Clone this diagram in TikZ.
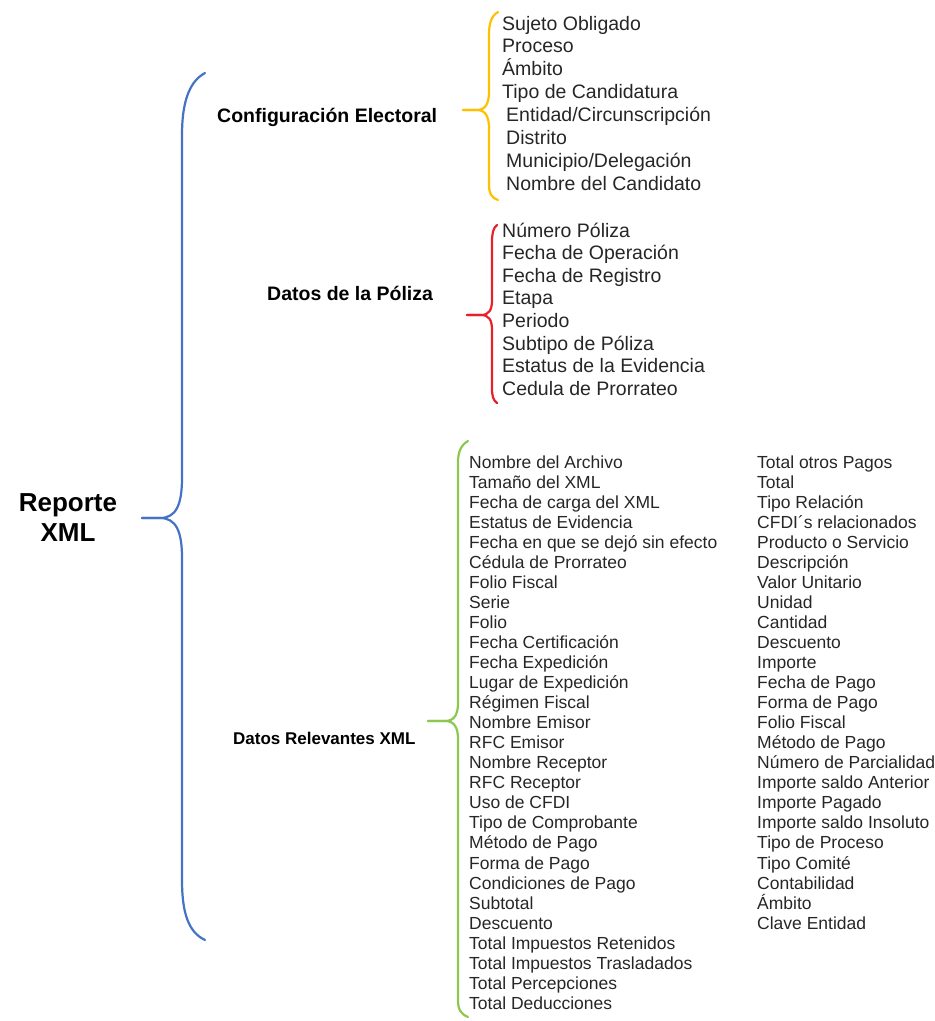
\documentclass[tikz,border=0pt]{standalone}
\usepackage{fontspec}
\setmainfont{Liberation Sans}
\usetikzlibrary{positioning}
\definecolor{brblue}{HTML}{4472C4}
\definecolor{bryellow}{HTML}{FFC000}
\definecolor{brred}{HTML}{E8202A}
\definecolor{brgreen}{HTML}{8CC850}

\begin{document}
\begin{tikzpicture}[x=1pt, y=-1pt,
      root/.style={font=\fontsize{26}{30}\selectfont\bfseries, align=center, inner sep=0pt},
      head/.style={font=\fontsize{19.5}{23}\selectfont\bfseries, anchor=base west, inner sep=0pt},
      headsm/.style={font=\fontsize{17}{20}\selectfont\bfseries, anchor=base west, inner sep=0pt},
      item/.style={font=\fontsize{19.5}{23}\selectfont, anchor=base west, inner sep=0pt, text=black!85},
      itemsm/.style={font=\fontsize{17.5}{20}\selectfont, anchor=base west, inner sep=0pt, text=black!85},
      brc/.style={line width=2.2pt, line cap=round, line join=round}]
    \useasboundingbox (0,0) rectangle (935,1021);

    % root and first-level headings
    \node[root] (root) at (68,518) {Reporte\\ XML};
    \node[head] (conf) at (217,122) {Configuración Electoral};
    \node[head] (pol) at (267,300) {Datos de la Póliza};
    \node[headsm] (xml) at (233,744) {Datos Relevantes XML};

    % brace tips
    \coordinate (rtip) at (142,518);
    \coordinate (ctip) at (463,110);
    \coordinate (ptip) at (467,315);
    \coordinate (xtip) at (428,721);

    % blue brace
    \draw[brc, brblue] (205,73) .. controls (188,82) and (182,105) .. (182,135) -- (182,478)
      .. controls (182,505) and (176,518) .. (160,518) -- (rtip);
    \draw[brc, brblue] (rtip) -- (160,518) .. controls (176,518) and (182,531) .. (182,558)
      -- (182,880) .. controls (182,912) and (188,932) .. (205,940);

    % yellow brace
    \draw[brc, bryellow] (498,12) .. controls (491,16) and (489,24) .. (489,35) -- (489,92)
      .. controls (489,104) and (485,110) .. (477,110) -- (ctip);
    \draw[brc, bryellow] (ctip) -- (477,110) .. controls (485,110) and (489,116) .. (489,128)
      -- (489,185) .. controls (489,194) and (492,198) .. (498,200);

    % red brace
    \draw[brc, brred] (497,225) .. controls (493,228) and (492,234) .. (492,242) -- (492,300)
      .. controls (492,310) and (489,315) .. (481,315) -- (ptip);
    \draw[brc, brred] (ptip) -- (481,315) .. controls (489,315) and (492,320) .. (492,330)
      -- (492,388) .. controls (492,396) and (493,400) .. (497,403);

    % green brace
    \draw[brc, brgreen] (468,441) .. controls (461,445) and (458,452) .. (458,462) -- (458,703)
      .. controls (458,715) and (454,721) .. (445,721) -- (xtip);
    \draw[brc, brgreen] (xtip) -- (445,721) .. controls (454,721) and (458,727) .. (458,739)
      -- (458,1000) .. controls (458,1010) and (461,1014) .. (468,1017);

    % Configuracion Electoral items
    \foreach \t [count=\i] in {Sujeto Obligado, Proceso, Ámbito, Tipo de Candidatura}
      \node[item] (conf\i) at (502,{30+22.9*(\i-1)}) {\t};
    \foreach \t [count=\i from 5] in {Entidad/Circunscripción, Distrito,
        Municipio/Delegación, Nombre del Candidato}
      \node[item] (conf\i) at (506,{30+22.9*(\i-1)}) {\t};

    % Datos de la Poliza items
    \foreach \t [count=\i] in {Número Póliza, Fecha de Operación, Fecha de Registro, Etapa,
        Periodo, Subtipo de Póliza, Estatus de la Evidencia, Cedula de Prorrateo}
      \node[item] (pol\i) at (502,{237+22.6*(\i-1)}) {\t};

    % Datos Relevantes XML, first column
    \foreach \t [count=\i] in {Nombre del Archivo, Tamaño del XML, Fecha de carga del XML,
        Estatus de Evidencia, Fecha en que se dejó sin efecto, Cédula de Prorrateo,
        Folio Fiscal, Serie, Folio, Fecha Certificación, Fecha Expedición,
        Lugar de Expedición, Régimen Fiscal, Nombre Emisor, RFC Emisor, Nombre Receptor,
        RFC Receptor, Uso de CFDI, Tipo de Comprobante, Método de Pago, Forma de Pago,
        Condiciones de Pago, Subtotal, Descuento, Total Impuestos Retenidos,
        Total Impuestos Trasladados, Total Percepciones, Total Deducciones}
      \node[itemsm] (xa\i) at (469,{468+20.05*(\i-1)}) {\t};

    % Datos Relevantes XML, second column
    \foreach \t [count=\i] in {Total otros Pagos, Total, Tipo Relación, CFDI´s relacionados,
        Producto o Servicio, Descripción, Valor Unitario, Unidad, Cantidad, Descuento,
        Importe, Fecha de Pago, Forma de Pago, Folio Fiscal, Método de Pago,
        Número de Parcialidad, Importe saldo Anterior, Importe Pagado,
        Importe saldo Insoluto, Tipo de Proceso, Tipo Comité, Contabilidad, Ámbito,
        Clave Entidad}
      \node[itemsm] (xb\i) at (757,{468+20.05*(\i-1)}) {\t};
  \end{tikzpicture}
\end{document}
